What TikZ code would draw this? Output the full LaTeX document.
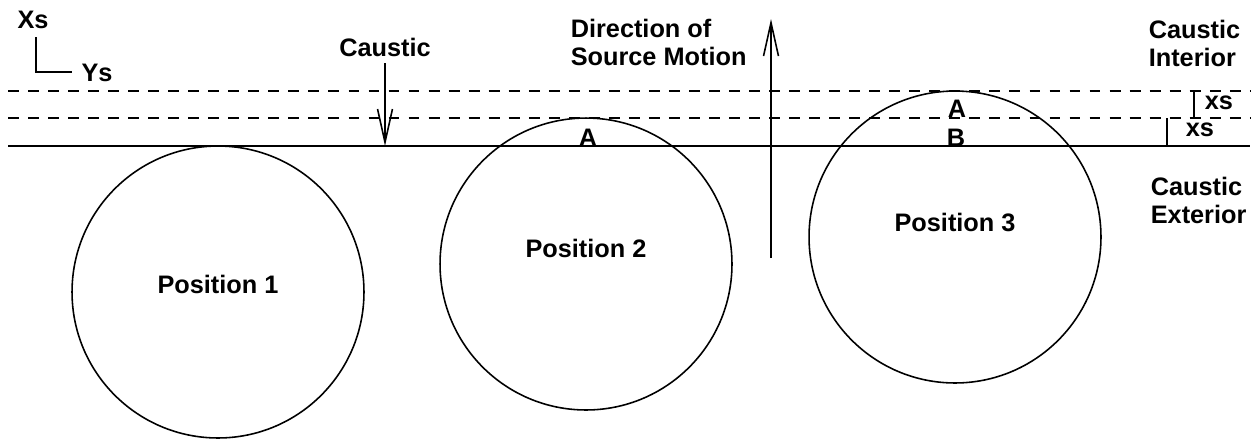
\documentclass[tikz,border=0pt]{standalone}
\usepackage{fontspec}
\setmainfont{Liberation Sans}
\usetikzlibrary{arrows.meta}
\begin{document}
\begin{tikzpicture}[x=.02cm,y=-.02cm,line width=.9pt,
  lbl/.style={font=\fontsize{14.4}{15.9}\selectfont\bfseries,inner sep=0pt,align=left},
  dsh/.style={dash pattern=on 6.2pt off 5.2pt},
  barb/.style={-{Straight Barb[length=19pt,width=8.5pt,line width=.9pt]}}]
\useasboundingbox (0,0) rectangle (1257,444);
% caustic and the two dashed levels
\coordinate (l0) at (8,146); \coordinate (r0) at (1250,146);
\coordinate (l1) at (8,118); \coordinate (r1) at (1250,118);
\coordinate (l2) at (8,91);  \coordinate (r2) at (1250,91);
\draw (l0)--(r0); \draw[dsh] (l1)--(r1); \draw[dsh] (l2)--(r2);
% source positions
\coordinate (c1) at (218,292); \coordinate (c2) at (586,264); \coordinate (c3) at (955,237);
\foreach \p in {c1,c2,c3}{\draw (\p) circle[radius=2.92cm];}
\node[lbl] (p1) at (218,284) {Position 1};
\node[lbl] (p2) at (586,248) {Position 2};
\node[lbl] (p3) at (955,222) {Position 3};
\node[lbl,anchor=base] (a2) at (588,146) {A};
\node[lbl,anchor=base] (a3) at (957,117) {A};
\node[lbl,anchor=base] (b3) at (956,146) {B};
% axes
\node[lbl] (xs) at (33,20) {Xs}; \node[lbl] (ys) at (97,73) {Ys};
\coordinate (ax) at (36,37); \coordinate (ay) at (72,72);
\draw (ax) |- (ay);
% arrows
\node[lbl] (cau) at (385,47) {Caustic};
\coordinate (ct) at (385,63); \coordinate (cb) at (385,146);
\draw[barb] (ct)--(cb);
\node[lbl,anchor=north west] (dir) at (570,18) {Direction of\\Source Motion};
\coordinate (db) at (771,258); \coordinate (dt) at (771,19);
\draw[barb] (db)--(dt);
% right side
\node[lbl,anchor=north west] (ci) at (1148,19) {Caustic\\Interior};
\node[lbl,anchor=north west] (ce) at (1150,176) {Caustic\\Exterior};
\coordinate (s1) at (1194,92); \coordinate (s2) at (1194,118);
\draw (s1)--(s2);
\node[lbl,anchor=base west] (x1) at (1204,109) {xs};
\coordinate (s3) at (1167,118); \coordinate (s4) at (1167,146);
\draw (s3)--(s4);
\node[lbl,anchor=base west] (x2) at (1185,136) {xs};
\end{tikzpicture}
\end{document}
